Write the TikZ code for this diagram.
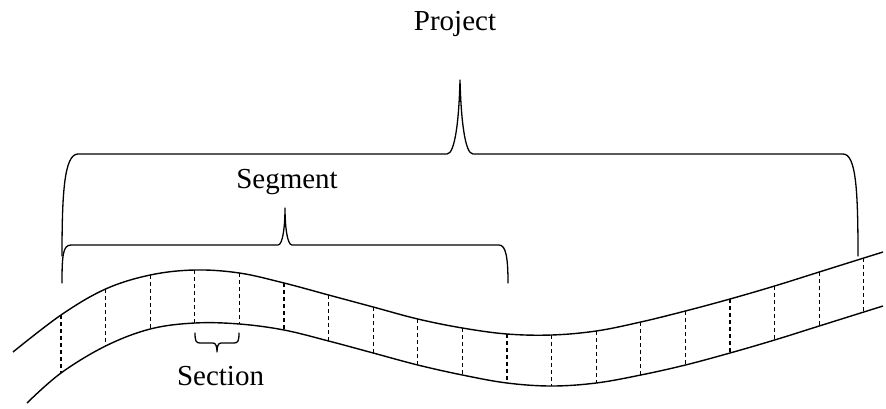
\documentclass[tikz,border=0pt]{standalone}
\usepackage{fontspec}
\setmainfont{Liberation Serif}
\begin{document}
\begin{tikzpicture}[x=1pt,y=-1pt,
  band/.style={line width=1.4pt},
  sep/.style={dash pattern=on 4pt off 3pt, line width=1.1pt},
  brace/.style={line width=1.3pt, line join=round, line cap=round},
  lbl/.style={font=\fontsize{29}{31}\selectfont, inner sep=0pt, anchor=base}]
\useasboundingbox (0,0) rectangle (886,408);
% top edge points
\foreach \i/\x/\y in {0/61/315,1/105.6/289,2/150.2/275,3/194.8/270,4/239.4/273,5/284/283,6/328.6/295,7/373.2/307,8/417.8/319,9/462.4/328,10/507/334,11/551.6/335,12/596.2/331,13/640.8/322,14/685.4/311,15/730/299,16/774.6/286,17/819.2/272,18/863.8/258}
  \coordinate (t\i) at (\x,\y);
% bottom edge points
\foreach \i/\x/\y in {0/61/373,1/105.6/346,2/150.2/329,3/194.8/323,4/239.4/324,5/284/330,6/328.6/341,7/373.2/353,8/417.8/365,9/462.4/375,10/507/383,11/551.6/386,12/596.2/383,13/640.8/375,14/685.4/365,15/730/353,16/774.6/340,17/819.2/326,18/863.8/312}
  \coordinate (b\i) at (\x,\y);
\coordinate (tS) at (13,352);
\coordinate (tE) at (883,252);
\coordinate (bS) at (27,403);
\coordinate (bE) at (883,306);
\draw[band] plot[smooth, tension=0.6] coordinates {(tS) (t0) (t1) (t2) (t3) (t4) (t5) (t6) (t7) (t8) (t9) (t10) (t11) (t12) (t13) (t14) (t15) (t16) (t17) (t18) (tE)};
\draw[band] plot[smooth, tension=0.6] coordinates {(bS) (b0) (b1) (b2) (b3) (b4) (b5) (b6) (b7) (b8) (b9) (b10) (b11) (b12) (b13) (b14) (b15) (b16) (b17) (b18) (bE)};
\foreach \i in {0,...,18} \draw[sep] (t\i) -- (b\i);
% labels
\node[lbl] (project) at (455,30) {Project};
\node[lbl] (segment) at (287,188) {Segment};
\node[lbl] (section) at (220.5,385) {Section};
% project brace
\draw[brace] (62,256) .. controls (62,195) and (64,154) .. (78,154) -- (447,154)
  .. controls (455,154) and (459,120) .. (460,80)
  .. controls (461,120) and (465,154) .. (473,154) -- (843,154)
  .. controls (856,154) and (858,190) .. (858,256);
% segment brace
\draw[brace] (62,283) .. controls (62,255) and (63,245) .. (71,245) -- (278,245)
  .. controls (283,245) and (285,225) .. (285,208)
  .. controls (285,225) and (287,245) .. (292,245) -- (499,245)
  .. controls (506,245) and (508,258) .. (508,283);
% section brace
\draw[brace] (195,333) .. controls (195,341) and (196,343) .. (200,343) -- (213,343)
  .. controls (216,343) and (217,347) .. (217,352)
  .. controls (217,347) and (218,343) .. (221,343) -- (234,343)
  .. controls (238,343) and (239,341) .. (239,333);
\end{tikzpicture}
\end{document}
